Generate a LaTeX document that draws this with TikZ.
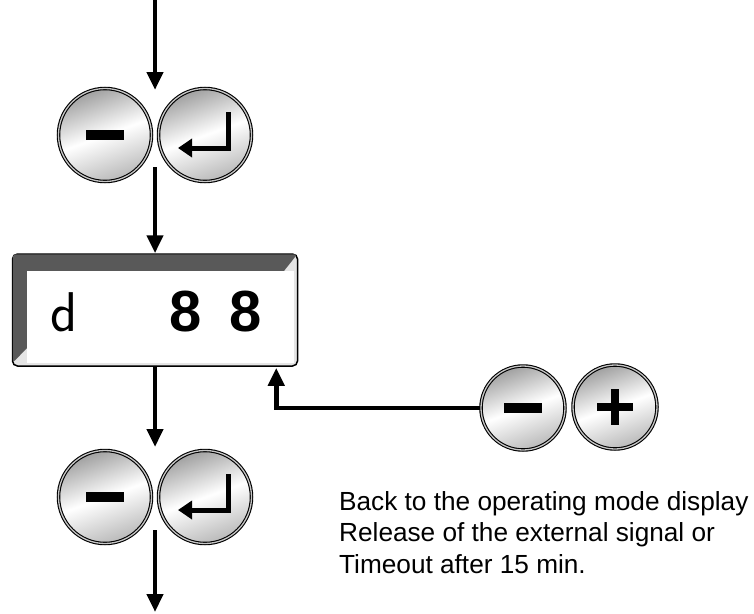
\documentclass[tikz,border=0pt]{standalone}
\usepackage{fontspec}
\setmainfont{Liberation Sans}
\usetikzlibrary{positioning,calc,arrows.meta}

\tikzset{
  button/.style={circle, inner sep=0pt, minimum size=93pt, draw=black, line width=1.1pt,
    double=gray!45, double distance=1.3pt,
    top color=gray!75, bottom color=gray!55, middle color=white, shading angle=20},
  small button/.style={button, minimum size=84pt},
  flow/.style={draw, line width=4.5pt, -{Triangle[length=18pt,width=16pt]}},
  display/.style={rectangle, draw=black, line width=1.5pt, rounded corners=5pt,
    fill=gray!20, minimum width=285pt, minimum height=112pt},
  bevel/.style={fill=black!65},
  sign/.style={fill=black}
}
\newcommand{\minussign}[1]{\fill[sign] ($(#1)+(-19,-5)$) rectangle ($(#1)+(19,5)$);}
\newcommand{\plussign}[1]{%
  \fill[sign] ($(#1)+(-18,-4)$) rectangle ($(#1)+(18,4)$);
  \fill[sign] ($(#1)+(-4,-18)$) rectangle ($(#1)+(4,18)$);}
\newcommand{\entersign}[1]{%
  \draw[line width=5pt, -{Triangle[length=14pt,width=18pt]}]
    ($(#1)+(23,-23)$) |- ($(#1)+(-27,13)$);}

\begin{document}
\begin{tikzpicture}[x=1pt, y=-1pt]
\useasboundingbox (0,0) rectangle (754,613);

% keys
\node[button] (tmin) at (105,135) {};
\node[button] (tent) at (205,135) {};
\node[button] (bmin) at (105,497) {};
\node[button] (bent) at (205,497) {};
\node[small button] (rmin) at (523,408) {};
\node[small button] (rplus) at (615,407) {};
\minussign{tmin}
\entersign{tent}
\minussign{bmin}
\entersign{bent}
\minussign{rmin}
\plussign{rplus}

% display
\node[display] (disp) at (155,310) {};
\fill[bevel, rounded corners=3pt] ($(disp.north west)+(1,1)$) -- ($(disp.north east)+(-1,1)$)
  [sharp corners] -- ($(disp.north east)+(-14.5,18)$) -- ($(disp.north west)+(15.5,18)$)
  -- ($(disp.south west)+(15.5,-19)$) [rounded corners=3pt] -- ($(disp.south west)+(1,-4)$) -- cycle;
\fill[white] ($(disp.north west)+(15.5,18)$) rectangle ($(disp.south east)+(-4.5,-4)$);
\node[anchor=base, inner sep=0pt, font=\sffamily\fontsize{56}{56}\selectfont] (dchar) at (64,331) {d};
\node[anchor=base, inner sep=0pt, font=\bfseries\fontsize{58}{58}\selectfont] (dval) at (216,331) {8\hspace{28pt}8};

% note
\node[anchor=base west, align=left, inner sep=0pt,
  font=\fontsize{26.2}{31.5}\selectfont] (note) at (339,573)
  {Back to the operating mode display\\Release of the external signal or\\Timeout after 15 min.};

% connectors
\coordinate (start) at (155,0);
\coordinate (end) at (155,612);
\draw[flow] (start) -- ($(tmin)!0.5!(tent)+(0,-45)$);
\draw[flow] ($(tmin)!0.5!(tent)+(0,32)$) -- (disp.north);
\draw[flow] (disp.south) -- ($(bmin)!0.5!(bent)+(0,-50)$);
\draw[flow] ($(bmin)!0.5!(bent)+(0,33)$) -- (end);
\draw[flow] (rmin.west) -| ($(disp.south east)+(-22,1)$);
\end{tikzpicture}
\end{document}
